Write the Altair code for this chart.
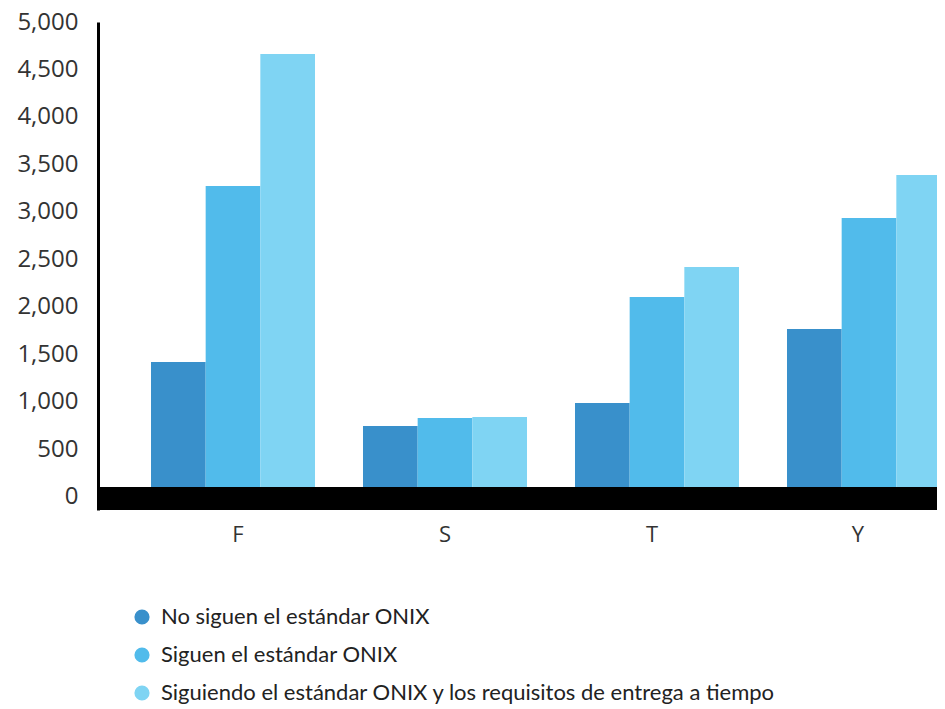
import altair as alt
import pandas as pd

categories = ["F", "S", "T", "Y"]
series = [
    "No siguen el estándar ONIX",
    "Siguen el estándar ONIX",
    "Siguiendo el estándar ONIX y los requisitos de entrega  a tiempo",
]
no_onix = [1421, 747, 989, 1768]
onix = [3274, 832, 2105, 2937]
onix_tiempo = [4663, 842, 2421, 3389]
colors = ["#3990CB", "#51BBEB", "#7FD4F3"]
y_ticks = [0, 500, 1000, 1500, 2000, 2500, 3000, 3500, 4000, 4500, 5000]

rows = []
for i, c in enumerate(categories):
    for s, vals in zip(series, [no_onix, onix, onix_tiempo]):
        rows.append({"cat": c, "serie": s, "valor": vals[i]})
df = pd.DataFrame(rows)

band_df = pd.DataFrame({"y0": [-137], "y1": [105]})

ydom = [-137, 5000]

bars = alt.Chart(df).mark_bar(clip=True).encode(
    x=alt.X("cat:N", sort=categories,
            scale=alt.Scale(range=[0, 906], paddingInner=0.2264, paddingOuter=0.25),
            axis=alt.Axis(title=None, labelAngle=0, domain=False, ticks=False,
                          labelFont="Open Sans", labelFontSize=22, labelColor="#333333",
                          labelPadding=14,
                          labelOffset={"expr": "datum.value == 'F' ? 5 : datum.value == 'T' ? -5 : datum.value == 'Y' ? -11 : 0"})),
    xOffset=alt.XOffset("serie:N", sort=series,
                        scale=alt.Scale(paddingInner=0, paddingOuter=0)),
    y=alt.Y("valor:Q", scale=alt.Scale(domain=ydom, nice=False, zero=False),
            axis=alt.Axis(title=None, values=y_ticks, format=",d", grid=False, ticks=False,
                          domain=True, domainColor="#000000", domainWidth=3,
                          labelFont="Open Sans", labelFontSize=24, labelColor="#333333",
                          labelPadding=20)),
    color=alt.Color("serie:N", sort=series,
                    scale=alt.Scale(domain=series, range=colors),
                    legend=alt.Legend(title=None, orient="none", legendX=33, legendY=584,
                                      symbolType="circle", symbolSize=230,
                                      symbolStrokeWidth=0, symbolOpacity=1,
                                      labelFont="Lato", labelFontSize=22,
                                      labelColor="#222222", labelOffset=8,
                                      rowPadding=16, padding=0, labelLimit=800)),
)

band = alt.Chart(band_df).mark_rect(color="#000000").encode(
    x=alt.value(0),
    x2=alt.value(839),
    y=alt.Y("y0:Q", scale=alt.Scale(domain=ydom, nice=False, zero=False)),
    y2="y1:Q",
)

chart = alt.layer(bars, band).properties(
    width=839,
    height=488,
    autosize=alt.AutoSizeParams(type="none"),
    padding={"left": 90, "top": 14, "right": 0, "bottom": 200},
).configure_view(stroke=None)

chart.save("out.html", embed_options={"renderer": "svg", "actions": False})
